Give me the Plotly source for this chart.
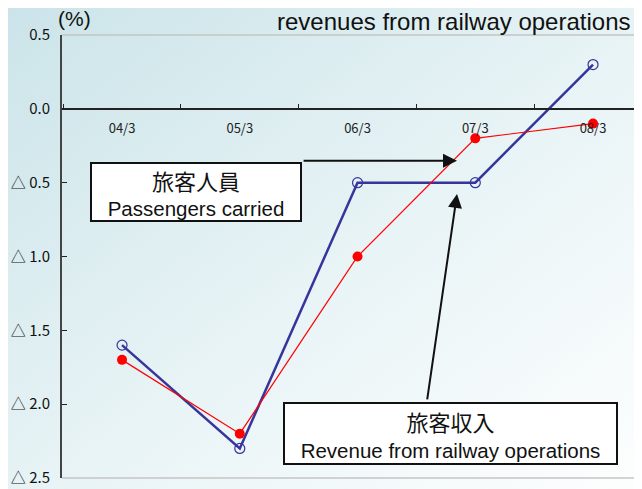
import base64
import plotly.graph_objects as go

# data
periods = ["04/3", "05/3", "06/3", "07/3", "08/3"]
revenue = [-1.6, -2.3, -0.5, -0.5, 0.3]       # 旅客収入
passengers = [-1.7, -2.2, -1.0, -0.2, -0.1]   # 旅客人員
y_ticks = [0.5, 0.0, -0.5, -1.0, -1.5, -2.0, -2.5]
y_labels = ["0.5", "0.0", "△ 0.5", "△ 1.0", "△ 1.5", "△ 2.0", "△ 2.5"]

# page body adds 8px margin, so the figure is 8px smaller than the window
W, H = 634, 481
ML, MR, MT, MB = 54, 0, 27, 11
PW, PH = W - ML - MR, H - MT - MB

# background gradient as an svg image
svg = (
    '<svg xmlns="http://www.w3.org/2000/svg" width="642" height="489" preserveAspectRatio="none">'
    '<defs><linearGradient id="g" x1="0" y1="0" x2="1" y2="1">'
    '<stop offset="0" stop-color="#cbe4e9"/>'
    '<stop offset="0.55" stop-color="#e9f4f6"/>'
    '<stop offset="1" stop-color="#fdfefe"/>'
    '</linearGradient></defs>'
    '<rect width="642" height="489" fill="url(#g)"/></svg>'
)
bg_src = "data:image/svg+xml;base64," + base64.b64encode(svg.encode()).decode()

cjk = "Noto Sans CJK JP, Liberation Sans, sans-serif"
sans = "Liberation Sans, Arial, Noto Sans CJK JP, sans-serif"

fig = go.Figure()

fig.add_trace(go.Scatter(
    x=periods, y=revenue, mode="lines+markers",
    line=dict(color="#35359c", width=2.5),
    marker=dict(symbol="circle-open", size=10, color="#35359c", line=dict(width=1.2)),
    showlegend=False,
))
fig.add_trace(go.Scatter(
    x=periods, y=passengers, mode="lines+markers",
    line=dict(color="#ff0000", width=1.2),
    marker=dict(symbol="circle", size=10, color="#ff0000"),
    showlegend=False,
))

# label boxes
fig.add_annotation(
    x=0.628, y=-0.562, xref="x", yref="y", showarrow=False,
    text='<span style="font-family:Noto Sans CJK JP;font-size:22px">旅客人員</span><br>Passengers carried',
    font=dict(family=sans, size=20.5, color="#111111"),
    bgcolor="white", bordercolor="#111111", borderwidth=2, borderpad=0,
    width=208, height=56,
)
fig.add_annotation(
    x=2.79, y=-2.197, xref="x", yref="y", showarrow=False,
    text='<span style="font-family:Noto Sans CJK JP;font-size:22px">旅客収入</span><br>Revenue from railway operations',
    font=dict(family=sans, size=20.5, color="#111111"),
    bgcolor="white", bordercolor="#111111", borderwidth=2, borderpad=0,
    width=331, height=59,
)

# arrows
fig.add_annotation(
    x=2.845, y=-0.352, ax=1.529, ay=-0.352, xref="x", yref="y", axref="x", ayref="y",
    text="", showarrow=True, arrowhead=2, arrowsize=1.4, arrowwidth=2, arrowcolor="#111111",
)
fig.add_annotation(
    x=2.845, y=-0.576, ax=2.59, ay=-1.977, xref="x", yref="y", axref="x", ayref="y",
    text="", showarrow=True, arrowhead=2, arrowsize=1.4, arrowwidth=2, arrowcolor="#111111",
)

# headings
fig.add_annotation(
    x=1, y=1, xref="paper", yref="paper", xanchor="right", yanchor="bottom",
    xshift=-9, yshift=-2,
    text="revenues from railway operations", showarrow=False,
    font=dict(family=sans, size=24, color="#111111"),
)
fig.add_annotation(
    x=-0.01, y=1, xref="paper", yref="paper", xanchor="left", yanchor="bottom", yshift=3,
    text="(%)", showarrow=False,
    font=dict(family=sans, size=21, color="#111111"),
)

# frame lines top and bottom
for yy in (0, 1):
    fig.add_shape(type="line", xref="paper", yref="paper", x0=0, x1=1, y0=yy, y1=yy,
                  line=dict(color="#c4c4c4", width=1.5))

fig.add_layout_image(
    source=bg_src, xref="paper", yref="paper",
    x=-ML / PW, y=1 + MT / PH, sizex=W / PW, sizey=H / PH,
    xanchor="left", yanchor="top", sizing="stretch", layer="below",
)

fig.update_layout(
    width=W, height=H,
    margin=dict(l=ML, r=MR, t=MT, b=MB),
    paper_bgcolor="#e6f2f4",
    plot_bgcolor="rgba(0,0,0,0)",
    xaxis=dict(
        type="category", range=[-0.51, 4.416],
        anchor="free", position=2.5 / 3,
        showline=True, linecolor="#222222", linewidth=2,
        ticks="inside", ticklen=4, tickcolor="#222222", tickson="boundaries",
        ticklabelstandoff=8,
        tickfont=dict(family=cjk, size=13, color="#222222"),
        showgrid=False, zeroline=False,
    ),
    yaxis=dict(
        range=[-2.5, 0.5], tickvals=y_ticks, ticktext=y_labels,
        showline=True, linecolor="#444444", linewidth=2,
        ticks="inside", ticklen=5, tickcolor="#222222",
        ticklabelstandoff=7,
        tickfont=dict(family=cjk, size=15, color="#111111"),
        showgrid=False, zeroline=False,
    ),
)

fig.write_html("out.html")
